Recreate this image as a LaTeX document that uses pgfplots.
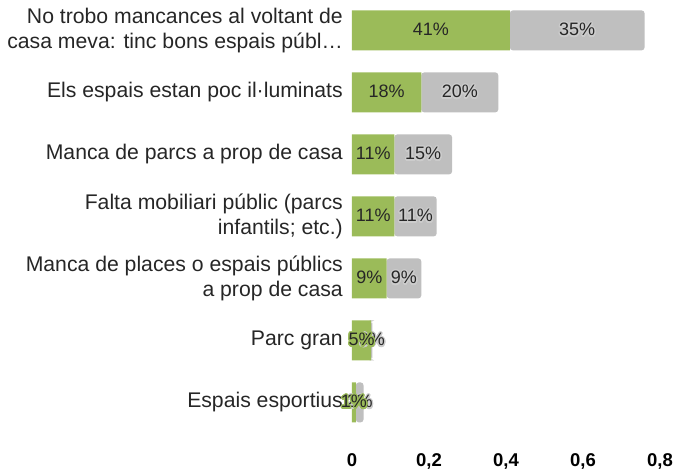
\documentclass[border=0pt]{standalone}
\usepackage{fontspec}
\setmainfont{Liberation Sans}
\usepackage{pgfplots}
\pgfplotsset{compat=1.18}
\usepackage{pgfplotstable}
\usepackage{contour}
\contourlength{1.3pt}
\contournumber{24}
\definecolor{barG}{HTML}{9BBB59}
\definecolor{barR}{HTML}{BFBFBF}
\definecolor{txt}{HTML}{262626}

\pgfplotstableread{
y g r gp rp
0 0.41 0.35 41 35
1 0.18 0.20 18 20
2 0.11 0.15 11 15
3 0.11 0.11 11 11
4 0.09 0.09 9 9
5 0.05 0.003 5 0
6 0.01 0.02 1 2
}\data

\begin{document}
\begin{tikzpicture}
\begin{axis}[name=ax, scale only axis, width=308pt, height=433.4pt,
  xbar stacked, bar width=40pt, y dir=reverse,
  xmin=0, xmax=0.8, ymin=-0.49, ymax=6.5,
  xtick={0,0.2,0.4,0.6,0.8}, ytick={0,1,2,3,4,5,6},
  yticklabels={{No trobo mancances al voltant de\\casa meva: tinc bons espais públ…},
    {Els espais estan poc il·luminats},
    {Manca de parcs a prop de casa},
    {Falta mobiliari públic (parcs\\infantils; etc.)},
    {Manca de places o espais públics\\a prop de casa},
    {Parc gran},
    {Espais esportius}},
  axis line style={draw=none}, major tick length=0pt,
  /pgf/number format/assume math mode=true,
  /pgf/number format/use comma,
  xticklabel style={font=\fontsize{18.5}{20}\selectfont\bfseries, text=black, yshift=-17pt},
  yticklabel style={font=\fontsize{21.2}{24.4}\selectfont, align=right, text=txt, inner sep=0pt, xshift=-9pt},
  every node near coord/.append style={anchor=center, font=\fontsize{18}{20}\selectfont, text=txt},
]
\addplot[fill=barG, draw=none, point meta=\thisrow{gp},
  nodes near coords={\contour{barG}{\pgfmathprintnumber{\pgfplotspointmeta}\%}}] table[x=g,y=y]{\data};
\addplot[fill=barR, draw=none, rounded corners=3pt, point meta=\thisrow{rp},
  nodes near coords={\contour{barR!80!white}{\pgfmathprintnumber{\pgfplotspointmeta}\%}}] table[x=r,y=y]{\data};
\end{axis}
\pgfresetboundingbox
\path[use as bounding box] ([xshift=-352pt]ax.north west) rectangle ([xshift=16pt,yshift=-41.6pt]ax.south east);
\end{tikzpicture}
\end{document}
